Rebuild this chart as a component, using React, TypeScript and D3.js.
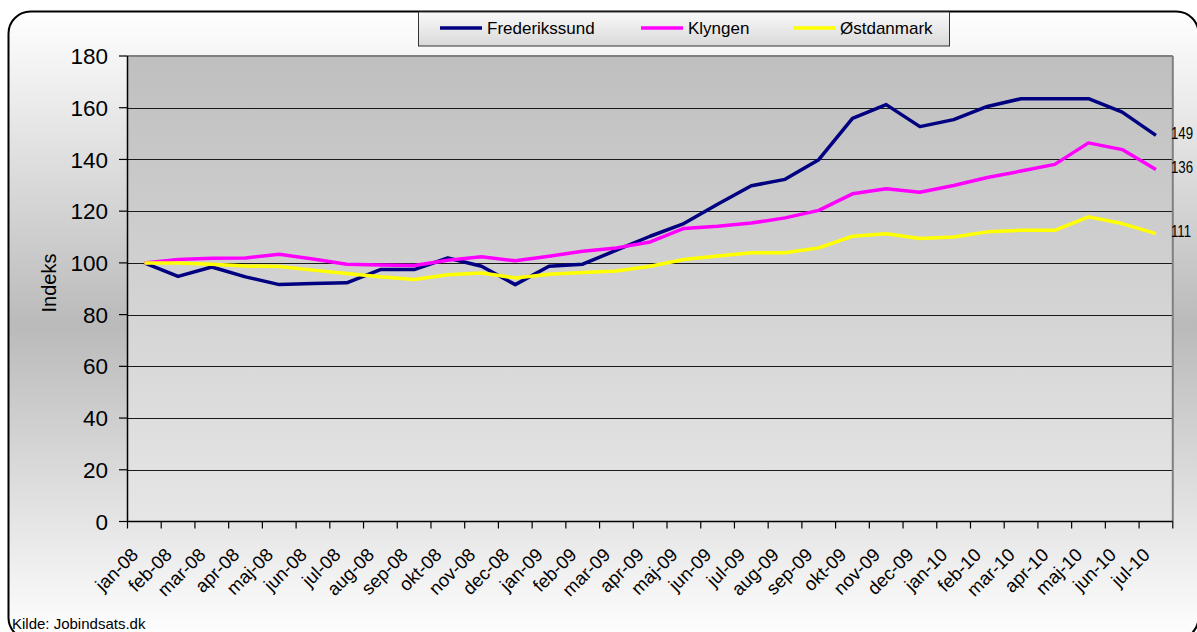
import React from 'react';
import * as d3 from 'd3';

const months = [
  'jan-08', 'feb-08', 'mar-08', 'apr-08', 'maj-08', 'jun-08', 'jul-08', 'aug-08', 'sep-08', 'okt-08', 'nov-08', 'dec-08',
  'jan-09', 'feb-09', 'mar-09', 'apr-09', 'maj-09', 'jun-09', 'jul-09', 'aug-09', 'sep-09', 'okt-09', 'nov-09', 'dec-09',
  'jan-10', 'feb-10', 'mar-10', 'apr-10', 'maj-10', 'jun-10', 'jul-10',
];

const frederikssund = [
  100, 94.8, 98.4, 94.6, 91.6, 92.0, 92.3, 97.4, 97.4, 101.9, 98.7, 91.6,
  98.7, 99.5, 104.9, 110.3, 115.2, 122.7, 129.8, 132.3, 139.9, 155.9, 161.2, 152.7,
  155.4, 160.5, 163.5, 163.5, 163.5, 158.3, 149.3,
];

const klyngen = [
  100, 101.3, 101.8, 101.9, 103.3, 101.5, 99.5, 99.2, 99.0, 101.0, 102.4, 100.8,
  102.6, 104.5, 105.8, 108.1, 113.3, 114.2, 115.4, 117.4, 120.3, 126.7, 128.7, 127.3,
  129.9, 133.0, 135.5, 138.1, 146.4, 143.8, 136.1,
];

const ostdanmark = [
  100, 100, 99.5, 98.8, 98.6, 97.2, 95.9, 94.6, 93.6, 95.4, 96.1, 94.2,
  95.6, 96.3, 96.9, 98.7, 101.3, 102.7, 103.9, 103.9, 105.8, 110.3, 111.3, 109.4,
  110.0, 112.0, 112.6, 112.6, 117.8, 115.2, 111.3,
];

const endLabels = ['149', '136', '111'];
const yTicks = [0, 20, 40, 60, 80, 100, 120, 140, 160, 180];

const seriesList = [
  { name: 'Frederikssund', values: frederikssund, color: '#000080' },
  { name: 'Klyngen', values: klyngen, color: '#ff00ff' },
  { name: 'Østdanmark', values: ostdanmark, color: '#ffff00' },
];

const W = 1197;
const H = 632;
const plot = { left: 127.5, right: 1172.8, top: 56, bottom: 521.5 };
const font = "'Liberation Sans', Arial, sans-serif";

export default function App() {
  const x = d3.scaleBand().domain(months).range([plot.left, plot.right]);
  const y = d3.scaleLinear().domain([0, 180]).range([plot.bottom, plot.top]);
  const cx = (m: string) => (x(m) as number) + x.bandwidth() / 2;

  const line = d3
    .line<number>()
    .x((_, i) => cx(months[i]))
    .y((d) => y(d));

  const boundaries = months.map((m) => x(m) as number).concat([plot.right]);
  const legendX = [440, 641, 793];

  return (
    <svg width={W} height={H} style={{ display: 'block', position: 'absolute', left: 0, top: 0 }}>
      <defs>
        <linearGradient id="outerBg" x1="0" y1="0" x2="0" y2="1">
          <stop offset="0" stopColor="#ffffff" />
          <stop offset="0.5" stopColor="#bababa" />
          <stop offset="1" stopColor="#ffffff" />
        </linearGradient>
        <linearGradient id="plotBg" x1="0" y1="0" x2="0" y2="1">
          <stop offset="0" stopColor="#bfbfbf" />
          <stop offset="1" stopColor="#e6e6e6" />
        </linearGradient>
        <linearGradient id="legendBg" x1="0" y1="0" x2="0" y2="1">
          <stop offset="0" stopColor="#fafafa" />
          <stop offset="1" stopColor="#d9d9d9" />
        </linearGradient>
      </defs>

      <rect x={0} y={0} width={W} height={H} fill="#ffffff" />
      {/* chart frame */}
      <rect x={8.5} y={11.5} width={1190} height={628} rx={22} ry={22} fill="url(#outerBg)" stroke="#000" strokeWidth={2} />

      {/* plot area */}
      <rect x={plot.left} y={plot.top} width={plot.right - plot.left} height={plot.bottom - plot.top} fill="url(#plotBg)" />
      {yTicks.slice(1, -1).map((t) => (
        <line key={t} x1={plot.left} x2={plot.right} y1={Math.round(y(t)) + 0.5} y2={Math.round(y(t)) + 0.5} stroke="#1a1a1a" strokeWidth={1} />
      ))}
      <line x1={plot.left} x2={plot.right} y1={plot.top} y2={plot.top} stroke="#808080" strokeWidth={2} />
      <line x1={plot.right} x2={plot.right} y1={plot.top} y2={plot.bottom} stroke="#808080" strokeWidth={2} />

      {/* y axis */}
      <line x1={plot.left} x2={plot.left} y1={plot.top} y2={plot.bottom} stroke="#000" strokeWidth={1.5} />
      {yTicks.map((t) => (
        <g key={t}>
          <line x1={119} x2={plot.left} y1={y(t)} y2={y(t)} stroke="#000" strokeWidth={1.2} />
          <text x={108} y={y(t)} dy="0.36em" textAnchor="end" fontFamily={font} fontSize={22.5} fill="#000">
            {t}
          </text>
        </g>
      ))}
      <text transform={`translate(56,283) rotate(-90)`} textAnchor="middle" fontFamily={font} fontSize={20} fill="#000">
        Indeks
      </text>

      {/* x axis */}
      <line x1={plot.left} x2={plot.right} y1={plot.bottom} y2={plot.bottom} stroke="#000" strokeWidth={1.5} />
      {boundaries.map((b, i) => (
        <line key={i} x1={b} x2={b} y1={plot.bottom} y2={plot.bottom + 7} stroke="#000" strokeWidth={1.2} />
      ))}
      {months.map((m) => (
        <text
          key={m}
          transform={`translate(${cx(m) - 5},556) rotate(-45)`}
          textAnchor="end"
          fontFamily={font}
          fontSize={18.5}
          fill="#000"
        >
          {m}
        </text>
      ))}

      {/* series */}
      {seriesList.map((s) => (
        <path key={s.name} d={line(s.values) || ''} fill="none" stroke={s.color} strokeWidth={3.5} strokeLinejoin="round" />
      ))}
      {seriesList.map((s, i) => (
        <text
          key={s.name}
          transform={`translate(${cx(months[months.length - 1]) + 15},${y(s.values[s.values.length - 1]) - 2.5}) scale(0.78,1)`}
          dy="0.36em"
          fontFamily={font}
          fontSize={17}
          fill="#000"
        >
          {endLabels[i]}
        </text>
      ))}

      {/* legend */}
      <rect x={418.5} y={12} width={531} height={34} fill="url(#legendBg)" stroke="#333" strokeWidth={1} />
      {seriesList.map((s, i) => (
        <g key={s.name}>
          <line x1={legendX[i]} x2={legendX[i] + 42} y1={28} y2={28} stroke={s.color} strokeWidth={3.5} />
          <text x={legendX[i] + 47} y={28} dy="0.36em" fontFamily={font} fontSize={17} fill="#000">
            {s.name}
          </text>
        </g>
      ))}

      <text x={12} y={629} fontFamily={font} fontSize={15} fill="#000">
        Kilde: Jobindsats.dk
      </text>
    </svg>
  );
}
